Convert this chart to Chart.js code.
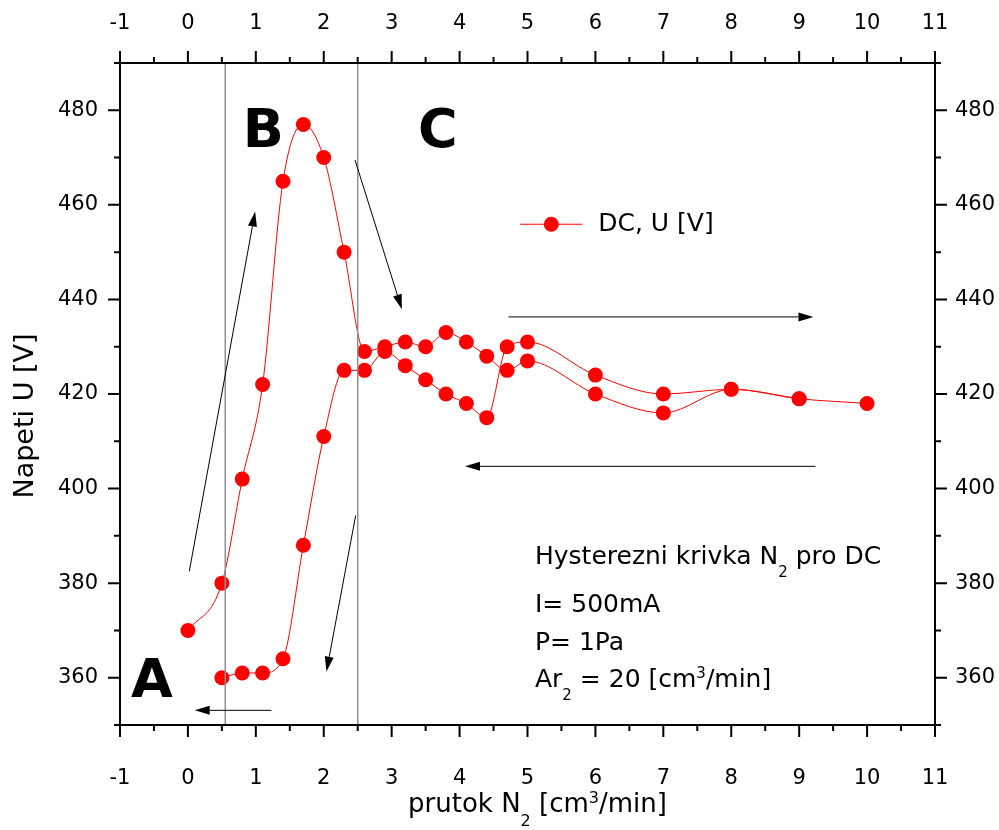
<!DOCTYPE html>
<html>
<head>
<meta charset="utf-8">
<script src="https://cdn.jsdelivr.net/npm/chart.js@4.4.0/dist/chart.umd.min.js"></script>
<style>
  html, body { margin: 0; padding: 0; background: #fff; }
  #wrap { width: 999px; height: 830px; }
</style>
</head>
<body>
<div id="wrap"><canvas id="hysChart" width="999" height="830"></canvas></div>
<script>
// N2 flow [cm3/min] vs discharge voltage [V], increasing flow then going back
const flowUp = [0, 0.5, 0.8, 1.1, 1.4, 1.7, 2.0, 2.3, 2.6, 2.9, 3.2, 3.5, 3.8, 4.1, 4.4, 4.7, 5, 6, 7, 8, 9, 10];
const voltUp = [370, 380, 402, 422, 465, 477, 470, 450, 429, 430, 431, 430, 433, 431, 428, 425, 427, 420, 416, 421, 419, 418];
const flowDown = [9, 8, 7, 6, 5, 4.7, 4.4, 4.1, 3.8, 3.5, 3.2, 2.9, 2.6, 2.3, 2.0, 1.7, 1.4, 1.1, 0.8, 0.5];
const voltDown = [419, 421, 420, 424, 431, 430, 415, 418, 420, 423, 426, 429, 425, 425, 411, 388, 364, 361, 361, 360];

const xTickLabels = [-1, 0, 1, 2, 3, 4, 5, 6, 7, 8, 9, 10, 11];
const yTickLabels = [360, 380, 400, 420, 440, 460, 480];

// region borders, region letters and the direction arrows (data units)
const zoneBounds = [0.55, 2.5];
const zoneNames = ['A', 'B', 'C'];
const zoneNameX = [-0.53, 1.11, 3.68];
const zoneNameY = [360, 476.4, 476.4];
const arrows = [
  [0.02, 382.5, 0.99, 458.6],
  [2.46, 469.5, 3.15, 437.9],
  [4.72, 436.3, 9.21, 436.3],
  [9.24, 404.7, 4.08, 404.7],
  [2.47, 394.3, 2.04, 361.3],
  [1.23, 353.1, 0.10, 353.1]
];

const FONT = '"DejaVu Sans", "Liberation Sans", Arial, sans-serif';
const RED = '#ff0000';

const toPoints = (xs, ys) => xs.map((x, i) => ({ x: x, y: ys[i] }));

function drawRich(ctx, parts, x, y, size, align) {
  const fontFor = k => (k ? Math.round(size * 0.6) : size) + 'px ' + FONT;
  let total = 0;
  parts.forEach(([t, k]) => { ctx.font = fontFor(k); total += ctx.measureText(t).width; });
  let cx = align === 'center' ? x - total / 2 : x;
  ctx.textAlign = 'left';
  ctx.textBaseline = 'alphabetic';
  parts.forEach(([t, k]) => {
    ctx.font = fontFor(k);
    const dy = k === 'sub' ? size * 0.52 : (k === 'sup' ? -size * 0.36 : 0);
    ctx.fillText(t, cx, y + dy);
    cx += ctx.measureText(t).width;
  });
}

function drawArrow(ctx, x0, y0, x1, y1) {
  const ang = Math.atan2(y1 - y0, x1 - x0);
  const len = 15, half = 4.5;
  const bx = x1 - len * Math.cos(ang), by = y1 - len * Math.sin(ang);
  ctx.beginPath();
  ctx.moveTo(x0, y0);
  ctx.lineTo(bx, by);
  ctx.stroke();
  ctx.beginPath();
  ctx.moveTo(x1, y1);
  ctx.lineTo(bx + half * Math.sin(ang), by - half * Math.cos(ang));
  ctx.lineTo(bx - half * Math.sin(ang), by + half * Math.cos(ang));
  ctx.closePath();
  ctx.fill();
}

const overlay = {
  id: 'overlay',
  afterDatasetsDraw(chart) {
    const { ctx, chartArea: a } = chart;
    const sx = chart.scales.x, sy = chart.scales.y;
    ctx.save();

    ctx.strokeStyle = '#8f8f8f';
    ctx.lineWidth = 1.5;
    zoneBounds.forEach(v => {
      const p = sx.getPixelForValue(v);
      ctx.beginPath();
      ctx.moveTo(p, a.top);
      ctx.lineTo(p, a.bottom);
      ctx.stroke();
    });

    ctx.strokeStyle = '#000';
    ctx.fillStyle = '#000';
    ctx.lineWidth = 1;
    arrows.forEach(([x0, y0, x1, y1]) => {
      drawArrow(ctx, sx.getPixelForValue(x0), sy.getPixelForValue(y0),
        sx.getPixelForValue(x1), sy.getPixelForValue(y1));
    });

    ctx.font = 'bold 54px ' + FONT;
    ctx.textAlign = 'center';
    ctx.textBaseline = 'alphabetic';
    zoneNames.forEach((n, i) => {
      ctx.fillText(n, sx.getPixelForValue(zoneNameX[i]), sy.getPixelForValue(zoneNameY[i]) + 54 * 0.365);
    });

    // legend
    const lx = sx.getPixelForValue(5.35), ly = sy.getPixelForValue(455.9);
    ctx.strokeStyle = RED;
    ctx.lineWidth = 1;
    ctx.beginPath();
    ctx.moveTo(lx - 31, ly);
    ctx.lineTo(lx + 31, ly);
    ctx.stroke();
    ctx.fillStyle = RED;
    ctx.beginPath();
    ctx.arc(lx, ly, 7.5, 0, Math.PI * 2);
    ctx.fill();
    ctx.fillStyle = '#000';
    ctx.font = '25px ' + FONT;
    ctx.textAlign = 'left';
    ctx.textBaseline = 'middle';
    ctx.fillText('DC, U [V]', lx + 47, ly);

    // conditions of the measurement
    const tx = sx.getPixelForValue(5.11);
    drawRich(ctx, [['Hysterezni krivka N'], ['2', 'sub'], [' pro DC']], tx, sy.getPixelForValue(384.1), 25);
    drawRich(ctx, [['I= 500mA']], tx, sy.getPixelForValue(373.8), 25);
    drawRich(ctx, [['P= 1Pa']], tx, sy.getPixelForValue(365.9), 25);
    drawRich(ctx, [['Ar'], ['2', 'sub'], [' = 20 [cm'], ['3', 'sup'], ['/min]']], tx, sy.getPixelForValue(358.1), 25);
    ctx.restore();
  },
  afterDraw(chart) {
    const { ctx, chartArea: a } = chart;
    const sx = chart.scales.x, sy = chart.scales.y;
    ctx.save();
    ctx.strokeStyle = '#000';
    ctx.lineWidth = 2;
    ctx.strokeRect(a.left, a.top, a.right - a.left, a.bottom - a.top);

    ctx.beginPath();
    sx.ticks.forEach(t => {
      const p = sx.getPixelForValue(t.value);
      const len = xTickLabels.includes(t.value) ? 12 : 6;
      ctx.moveTo(p, a.bottom); ctx.lineTo(p, a.bottom + len);
      ctx.moveTo(p, a.top); ctx.lineTo(p, a.top - len);
    });
    sy.ticks.forEach(t => {
      const p = sy.getPixelForValue(t.value);
      const len = yTickLabels.includes(t.value) ? 12 : 6;
      ctx.moveTo(a.left, p); ctx.lineTo(a.left - len, p);
      ctx.moveTo(a.right, p); ctx.lineTo(a.right + len, p);
    });
    ctx.stroke();

    // axis titles
    ctx.fillStyle = '#000';
    drawRich(ctx, [['prutok N'], ['2', 'sub'], [' [cm'], ['3', 'sup'], ['/min]']], (a.left + a.right) / 2 + 10, 812, 26, 'center');
    ctx.translate(33, (a.top + a.bottom) / 2 + 22);
    ctx.rotate(-Math.PI / 2);
    ctx.font = '27px ' + FONT;
    ctx.textAlign = 'center';
    ctx.textBaseline = 'alphabetic';
    ctx.fillText('Napeti U [V]', 0, 0);
    ctx.restore();
  }
};

const tickFont = { family: FONT, size: 21 };
const xTicks = (pad) => ({
  stepSize: 0.5, autoSkip: false, maxRotation: 0, padding: pad, color: '#000', font: tickFont,
  callback: v => xTickLabels.includes(v) ? String(v) : ''
});
const yTicks = (pad) => ({
  stepSize: 10, autoSkip: false, padding: pad, color: '#000', font: tickFont,
  callback: v => yTickLabels.includes(v) ? String(v) : ''
});
const noGrid = { display: false, drawTicks: false };

const lineStyle = {
  borderColor: RED,
  backgroundColor: RED,
  borderWidth: 1,
  pointRadius: 7.5,
  pointBorderWidth: 0,
  cubicInterpolationMode: 'monotone',
  fill: false
};

new Chart(document.getElementById('hysChart'), {
  type: 'line',
  data: {
    datasets: [
      Object.assign({ label: 'DC, U [V]', data: toPoints(flowUp, voltUp) }, lineStyle),
      Object.assign({ label: 'DC, U [V] back', data: toPoints(flowDown, voltDown) }, lineStyle)
    ]
  },
  options: {
    responsive: false,
    animation: false,
    devicePixelRatio: 1,
    layout: { padding: 0 },
    plugins: {
      legend: { display: false },
      tooltip: { enabled: false }
    },
    scales: {
      x: {
        type: 'linear', position: 'bottom', min: -1, max: 11,
        ticks: xTicks(41), grid: noGrid, border: { display: false },
        afterFit: s => { s.height = 105; }
      },
      x2: {
        type: 'linear', position: 'top', min: -1, max: 11,
        ticks: xTicks(27), grid: noGrid, border: { display: false },
        afterFit: s => { s.height = 63; }
      },
      y: {
        type: 'linear', position: 'left', min: 350, max: 490,
        ticks: yTicks(22), grid: noGrid, border: { display: false },
        afterFit: s => { s.width = 120; }
      },
      y2: {
        type: 'linear', position: 'right', min: 350, max: 490,
        ticks: yTicks(20), grid: noGrid, border: { display: false },
        afterFit: s => { s.width = 64; }
      }
    }
  },
  plugins: [overlay]
});
</script>
</body>
</html>
